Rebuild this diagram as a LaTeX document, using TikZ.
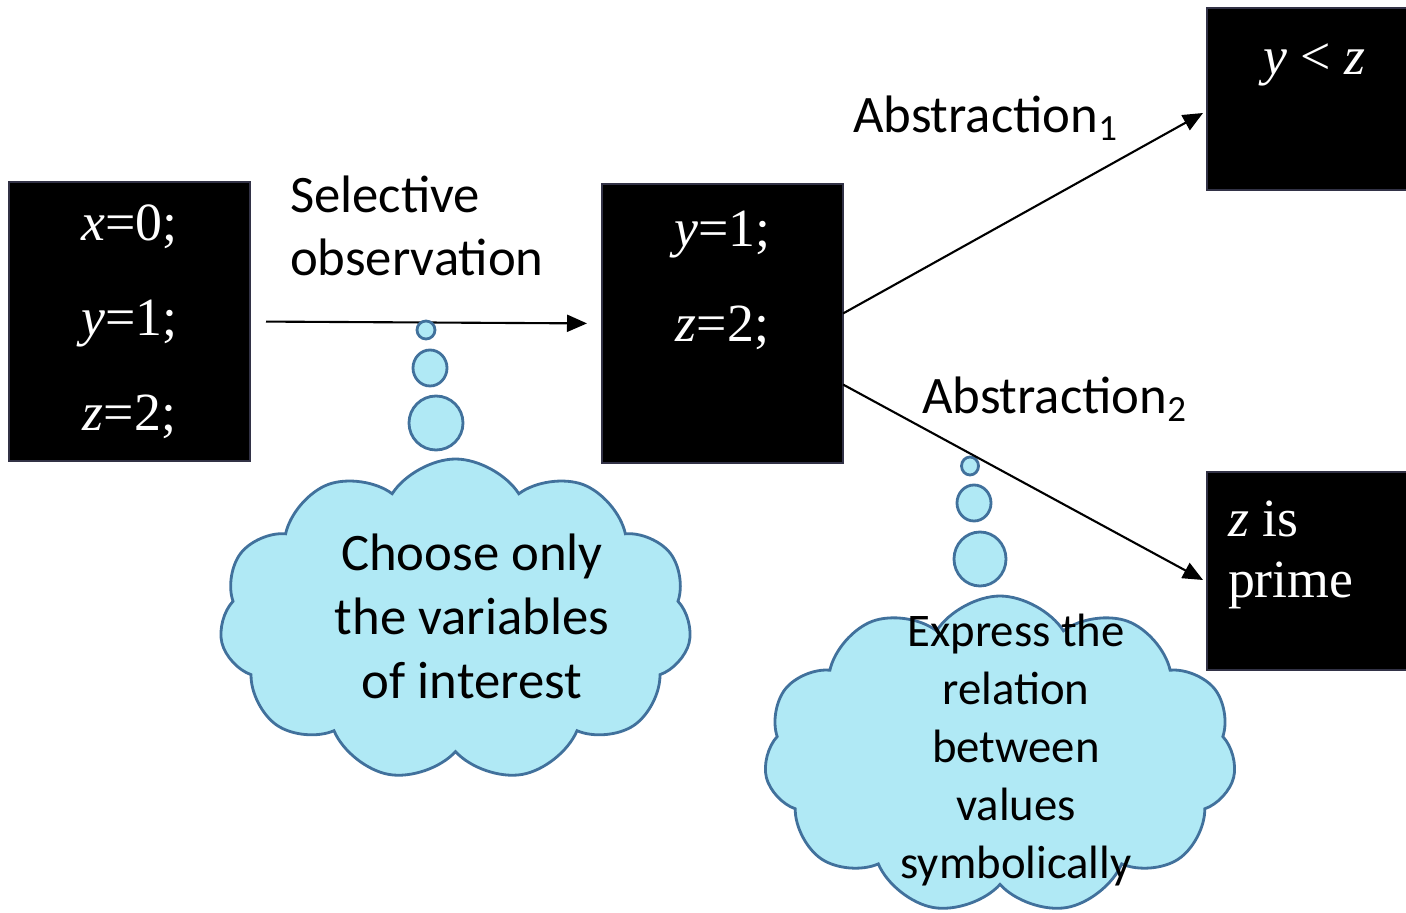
\documentclass[tikz,border=0pt]{standalone}
\usepackage{fontspec}
\setmainfont{Liberation Serif}
\newfontfamily\calibri{Carlito}
\usetikzlibrary{arrows.meta}
\usetikzlibrary{positioning}
\usetikzlibrary{calc}
\usetikzlibrary{shapes.symbols}
\usetikzlibrary{shapes.geometric}

\definecolor{cloudfill}{RGB}{176,233,245}
\definecolor{cloudline}{RGB}{65,113,156}
\definecolor{boxline}{RGB}{50,50,70}

\begin{document}
\begin{tikzpicture}
        \tikzset{
          >={Triangle[length=0.2cm, width=0.17cm]},
          every node/.style={inner sep=0pt, outer sep=0pt},
          valbox/.style={
            fill=black,
            draw=boxline,
            thin,
            minimum width=2.41cm,
            minimum height=2.79cm,
          },
          val/.style={
            text=white,
            font=\fontsize{15.3}{17}\selectfont,
          },
          lbl/.style={
            font=\calibri\fontsize{15}{18}\selectfont,
          },
          thought/.style={
            cloud,
            cloud puffs=11,
            cloud puff arc=115,
            aspect=1.45,
            fill=cloudfill,
            draw=cloudline,
            line width=0.8pt,
          },
          bubble/.style={
            ellipse,
            fill=cloudfill,
            draw=cloudline,
            line width=0.8pt,
          },
          link/.style={->, line width=0.6pt},
        }
        \useasboundingbox (0,0) rectangle (14.06,-9.13);

        % boxes
        \node[valbox] (b1) at (1.295,-3.215) {};
        \node[valbox] (b2) at (7.225,-3.235) {};
        \node[valbox, minimum width=2.05cm, minimum height=1.82cm] (b3) at (13.095,-0.99) {};
        \node[valbox, minimum width=2.05cm, minimum height=1.98cm] (b4) at (13.095,-5.71) {};

        \node[val, align=center, font=\fontsize{15.3}{27}\selectfont] (v1) at (b1)
          {\textit{x}=0;\\ \textit{y}=1;\\ \textit{z}=2;};
        \node[val, anchor=base] (v2a) at ($(b2.north)+(0,-0.63)$) {\textit{y}=1;};
        \node[val, anchor=base] (v2b) at ($(v2a.base)+(0,-0.95)$) {\textit{z}=2;};
        \node[val, anchor=base] (v3) at ($(b3.north)+(0.05,-0.67)$) {\textit{y} < \textit{z}};
        \node[val, anchor=base west] (v4a) at ($(b4.north west)+(0.21,-0.65)$) {\textit{z} is};
        \node[val, anchor=base west] (v4b) at ($(v4a.base west)+(0,-0.60)$) {prime};

        % labels
        \node[lbl, align=left, anchor=north west] (sel) at (2.90,-1.76) {Selective\\observation};
        \node[lbl, anchor=base west] (abs1) at (8.53,-1.33) {Abstraction\textsubscript{1}};
        \node[lbl, anchor=base west] (abs2) at (9.22,-4.14) {Abstraction\textsubscript{2}};

        % selective observation
        \draw[link, shorten <=0.16cm, shorten >=0.15cm] (b1.east) -- (b2.west);

        % thought clouds
        \node[thought, minimum width=4.72cm, minimum height=3.22cm] (c1) at (4.555,-6.20) {};
        \node[bubble, minimum width=0.18cm, minimum height=0.18cm] (c1a) at (4.26,-3.30) {};
        \node[bubble, minimum width=0.34cm, minimum height=0.36cm] (c1b) at (4.30,-3.68) {};
        \node[bubble, minimum width=0.54cm, minimum height=0.54cm] (c1c) at (4.36,-4.23) {};
        \node[lbl, align=center, font=\calibri\fontsize{15}{18.2}\selectfont] (t1) at (4.72,-6.16)
          {Choose only\\the variables\\of interest};

        \node[thought, minimum width=4.72cm, minimum height=3.18cm] (c2) at (10.00,-7.55) {};
        \node[bubble, minimum width=0.17cm, minimum height=0.18cm] (c2a) at (9.70,-4.66) {};
        \node[bubble, minimum width=0.34cm, minimum height=0.36cm] (c2b) at (9.74,-5.03) {};
        \node[bubble, minimum width=0.52cm, minimum height=0.54cm] (c2c) at (9.80,-5.59) {};
        \node[lbl, align=center, font=\calibri\fontsize{13.3}{16.5}\selectfont] (t2) at (10.16,-7.50)
          {Express the\\relation\\between\\values\\symbolically};

        % abstractions
        \coordinate (s1) at ($(b2.east)+(0,0.10)$);
        \coordinate (e1) at ($(b3.west)+(-0.04,-0.14)$);
        \coordinate (s2) at ($(b2.east)+(0,-0.61)$);
        \coordinate (e2) at ($(b4.west)+(-0.04,-0.09)$);
        \draw[link] (s1) -- (e1);
        \draw[link] (s2) -- (e2);
\end{tikzpicture}
\end{document}
